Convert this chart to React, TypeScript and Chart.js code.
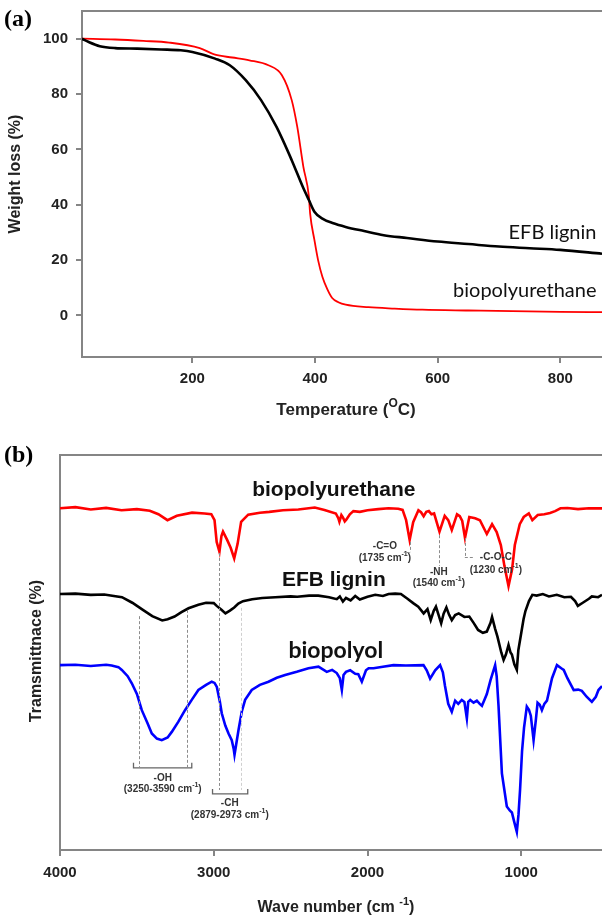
import React, { useEffect, useRef } from 'react';
import { Chart, registerables } from 'chart.js';

Chart.register(...registerables);

// ---------- Panel (a): TGA ----------
const tgaTempEfb = [20, 31, 49, 74, 110, 149, 181, 200, 237, 261, 287, 312, 337, 362, 380, 390, 399, 412, 430, 450, 480, 512, 550, 600, 650, 700, 750, 800, 868];
const tgaEfb = [100, 98.8, 97.3, 96.6, 96.4, 96.1, 95.8, 95.2, 92.8, 90.4, 85, 77.8, 68.2, 56.1, 46.5, 41.7, 37.5, 35, 33.3, 32, 30.5, 29, 28, 26.7, 25.8, 24.9, 24.3, 23.7, 22.3];
const tgaTempPu = [20, 74, 120, 162, 212, 237, 265, 293, 324, 346, 362, 371, 381, 390, 392, 399, 405, 412, 420, 428, 438, 450, 487, 530, 575, 650, 800, 868];
const tgaPu = [100, 99.7, 99.2, 98.6, 96.6, 94.2, 93.2, 92.2, 90.4, 86.8, 77.8, 68.2, 53.7, 43, 36.9, 27.3, 20, 14, 9.5, 6.3, 4.8, 3.9, 3, 2.5, 2.1, 1.8, 1.3, 1.2];
const tgaXTicks = [200, 400, 600, 800];
const tgaYTicks = [0, 20, 40, 60, 80, 100];
const tgaLabels = ['EFB lignin', 'biopolyurethane'];
const tgaLabelT = [859, 859];
const tgaLabelV = [29.8, 8.9];

// ---------- Panel (b): FTIR ----------
const puW = [4000, 3900, 3800, 3700, 3600, 3500, 3416, 3360, 3301, 3240, 3141, 3060, 3016, 2995, 2981, 2963, 2950, 2940, 2913, 2890, 2867, 2845, 2822, 2776, 2700, 2639, 2550, 2450, 2343, 2280, 2206, 2190, 2183, 2170, 2160, 2148, 2137, 2115, 2092, 2050, 2000, 1930, 1863, 1800, 1772, 1749, 1726, 1703, 1669, 1652, 1635, 1618, 1601, 1584, 1567, 1532, 1498, 1475, 1452, 1418, 1400, 1384, 1366, 1338, 1300, 1269, 1224, 1190, 1160, 1133, 1110, 1083, 1060, 1042, 1010, 984, 951, 928, 893, 850, 813, 780, 745, 700, 631, 560, 475];
const puT = [86.5, 86.8, 86.2, 86.6, 86.0, 86.3, 85.9, 85.0, 83.5, 84.6, 85.4, 85.2, 85.0, 83.5, 78, 75.5, 79.5, 80.6, 78.5, 76.5, 73.8, 77.5, 83.1, 84.9, 85.4, 85.6, 86.0, 86.2, 86.7, 86.1, 85.2, 84.0, 83.1, 84.8, 84.2, 83.2, 83.7, 85.0, 85.8, 85.6, 86.0, 86.3, 86.5, 86.4, 86.1, 83.5, 78.5, 83.0, 86.0, 85.5, 84.5, 85.6, 85.8, 85.0, 85.2, 80.6, 84.6, 83.5, 81.0, 85.0, 84.5, 83.3, 79.0, 84.3, 84.0, 83.5, 80.0, 82.5, 80.5, 77.2, 72, 66.8, 71, 77.2, 82.5, 84.3, 85.2, 83.5, 84.8, 85.0, 85.3, 85.8, 86.5, 86.6, 86.3, 86.5, 86.5];

const efbW = [4000, 3900, 3800, 3712, 3650, 3597, 3530, 3461, 3400, 3335, 3300, 3255, 3210, 3164, 3100, 3050, 3000, 2981, 2950, 2924, 2895, 2867, 2840, 2810, 2750, 2685, 2600, 2500, 2457, 2380, 2320, 2250, 2200, 2180, 2160, 2140, 2110, 2080, 2050, 2000, 1950, 1900, 1863, 1820, 1783, 1740, 1703, 1670, 1635, 1610, 1589, 1570, 1555, 1538, 1521, 1505, 1487, 1470, 1452, 1430, 1407, 1370, 1338, 1310, 1281, 1250, 1224, 1200, 1190, 1170, 1155, 1130, 1115, 1100, 1083, 1070, 1061, 1045, 1029, 1019, 1000, 985, 973, 950, 928, 900, 860, 820, 769, 720, 677, 650, 632, 600, 560, 541, 500, 475];
const efbT = [64.8, 64.9, 64.6, 64.7, 64.3, 64.0, 62.6, 60.8, 59.2, 58.1, 58.4, 59.1, 60.2, 61.2, 62.1, 62.6, 62.5, 61.8, 60.8, 59.9, 60.6, 61.4, 62.4, 63.0, 63.5, 63.8, 64.0, 64.2, 64.1, 64.4, 64.4, 64.0, 63.5, 64.2, 62.9, 63.8, 63.2, 64.3, 63.4, 64.1, 64.6, 64.3, 64.8, 64.9, 64.8, 63.6, 62.5, 61.6, 59.9, 61.0, 58.2, 60.5, 61.6, 59.5, 57.4, 59.8, 61.4, 59.6, 58.2, 59.5, 59.9, 59.0, 59.1, 57.5, 55.7, 55.0, 55.3, 57.5, 59.0, 56.0, 54.0, 50.0, 48.1, 49.5, 51.9, 50.0, 49.5, 47.0, 45.6, 50.6, 55.0, 58.5, 60.5, 63.0, 64.6, 64.4, 64.8, 64.2, 64.6, 64.0, 64.1, 63.0, 61.8, 62.6, 63.6, 64.2, 64.0, 64.6];

const polW = [4000, 3900, 3800, 3700, 3664, 3620, 3598, 3560, 3533, 3500, 3468, 3430, 3403, 3370, 3338, 3300, 3273, 3230, 3187, 3140, 3100, 3050, 3013, 2995, 2980, 2960, 2948, 2925, 2904, 2883, 2870, 2865, 2855, 2839, 2818, 2796, 2753, 2700, 2644, 2590, 2536, 2460, 2384, 2319, 2265, 2230, 2200, 2180, 2167, 2156, 2140, 2113, 2080, 2060, 2037, 2010, 1993, 1961, 1900, 1831, 1750, 1636, 1615, 1593, 1560, 1528, 1510, 1496, 1475, 1452, 1430, 1410, 1387, 1370, 1354, 1345, 1332, 1310, 1289, 1270, 1256, 1240, 1224, 1200, 1170, 1160, 1148, 1126, 1094, 1075, 1061, 1045, 1029, 1018, 1008, 995, 982, 964, 950, 938, 920, 905, 894, 880, 866, 850, 833, 800, 768, 740, 724, 700, 659, 630, 606, 575, 541, 515, 498, 475];
const polT = [46.8, 46.9, 46.6, 46.9, 46.7, 46.3, 45.6, 44.0, 42.2, 39.5, 35.4, 32.0, 29.5, 28.2, 27.8, 28.5, 29.9, 32.5, 35.4, 38.2, 40.5, 41.8, 42.6, 42.3, 41.3, 37.5, 34.6, 31.5, 29.5, 27.8, 25.5, 24.1, 26.5, 30.4, 35, 38.0, 40.5, 41.8, 42.6, 43.6, 44.3, 45.1, 46.0, 46.4, 45.1, 45.6, 44.8, 43.5, 40.5, 44.3, 45.1, 45.5, 44.6, 44.5, 42.6, 45.5, 46.0, 46.0, 46.4, 46.8, 46.7, 46.8, 45.5, 43.4, 45.5, 46.8, 45.0, 41.5, 37.0, 35.0, 37.8, 37.0, 38.0, 37.5, 33.3, 37.5, 38.0, 37.3, 37.8, 37.0, 36.5, 38.0, 39.5, 43.0, 46.8, 44.0, 36.5, 19.4, 11.0, 10.0, 9.5, 7.0, 4.6, 9.0, 15.2, 25.0, 31.0, 36.3, 35.5, 34.0, 27.8, 33.0, 37.3, 36.8, 35.4, 37.0, 37.8, 43.5, 46.8, 46.0, 45.6, 43.5, 40.5, 40.6, 40.3, 38.8, 37.5, 38.8, 40.5, 41.5];

const ftirXTicks = [4000, 3000, 2000, 1000];
const ftirNames = ['biopolyurethane', 'EFB lignin', 'biopolyol'];
const ftirNameW = [2219, 2219, 2206];
const ftirNameT = [91.1, 68.4, 50.6];

// peak annotations (positions)
const dashW = [3488, 3174, 2969, 2826, 1726, 1532, 1367];
const dashTop = [59.2, 60.8, 75.2, 61.3, 78, 79.7, 79];
const dashBottom = [21, 21, 15.2, 15.2, 75.4, 71.9, 74.2];
const elbowFrom = [1726, 1367];
const elbowTo = [1764, 1302];
const elbowT = [75.4, 74.2];
const bracketFrom = [3522, 3008];
const bracketTo = [3143, 2779];
const bracketT = [20.8, 14.2];
const peakNames = ['-C=O', '-NH', '-C-O-C', '-OH', '-CH'];
const peakRanges = ['1735', '1540', '1230', '3250-3590', '2879-2973'];
const peakLabelW = [1887, 1536, 1165, 3332, 2896];
const peakNameT = [77, 70.4, 74.2, 18.2, 11.9];
const peakRangeT = [73.9, 67.6, 70.9, 15.4, 8.9];

const SANS = '"Liberation Sans", Arial, sans-serif';
const AXIS = '#858585';

type Seg = { t: string; sup?: boolean };
function drawRich(ctx: CanvasRenderingContext2D, segs: Seg[], cx: number, cy: number, size: number, weight: string, family: string, align: 'center' | 'left' | 'right' = 'center') {
  const widths: number[] = [];
  let total = 0;
  segs.forEach((s) => {
    ctx.font = `${weight} ${s.sup ? Math.round(size * 0.68) : size}px ${family}`;
    const w = ctx.measureText(s.t).width;
    widths.push(w);
    total += w;
  });
  let x = align === 'center' ? cx - total / 2 : align === 'right' ? cx - total : cx;
  ctx.textAlign = 'left';
  ctx.textBaseline = 'middle';
  segs.forEach((s, i) => {
    ctx.font = `${weight} ${s.sup ? Math.round(size * 0.68) : size}px ${family}`;
    ctx.fillText(s.t, x, s.sup ? cy - size * 0.38 : cy);
    x += widths[i];
  });
}

const panelAPlugin = {
  id: 'panelA',
  afterDraw(chart: any) {
    const { ctx, chartArea: ca, scales } = chart;
    const x = scales.x, y = scales.y;
    ctx.save();
    ctx.strokeStyle = AXIS;
    ctx.lineWidth = 2;
    ctx.beginPath();
    ctx.moveTo(ca.left - 1, ca.top);
    ctx.lineTo(ca.right, ca.top);
    ctx.stroke();
    ctx.fillStyle = '#000';
    ctx.font = 'bold 24px "Liberation Serif", "Times New Roman", serif';
    ctx.textAlign = 'left';
    ctx.textBaseline = 'middle';
    ctx.fillText('(a)', 4, 20);
    ctx.fillStyle = '#222';
    ctx.save();
    ctx.translate(16, 174);
    ctx.rotate(-Math.PI / 2);
    drawRich(ctx, [{ t: 'Weight loss (%)' }], 0, 0, 16, 'bold', SANS);
    ctx.restore();
    drawRich(ctx, [{ t: 'Temperature (' }, { t: 'O', sup: true }, { t: 'C)' }], 346, 410, 17, 'bold', SANS);
    ctx.fillStyle = '#111';
    tgaLabels.forEach((lab, i) => {
      drawRich(ctx, [{ t: lab }], x.getPixelForValue(tgaLabelT[i]), y.getPixelForValue(tgaLabelV[i]), 20, 'normal', 'Lato, "Open Sans", sans-serif', 'right');
    });
    ctx.restore();
  },
};

const panelBPlugin = {
  id: 'panelB',
  afterDraw(chart: any) {
    const { ctx, chartArea: ca, scales } = chart;
    const x = scales.x, y = scales.y;
    ctx.save();
    ctx.strokeStyle = AXIS;
    ctx.lineWidth = 2;
    ctx.beginPath();
    ctx.moveTo(ca.left - 1, ca.top);
    ctx.lineTo(ca.right, ca.top);
    ctx.stroke();
    ctx.fillStyle = '#000';
    ctx.font = 'bold 24px "Liberation Serif", "Times New Roman", serif';
    ctx.textAlign = 'left';
    ctx.textBaseline = 'middle';
    ctx.fillText('(b)', 4, 16);
    ctx.fillStyle = '#222';
    ctx.save();
    ctx.translate(37, 651 - 440);
    ctx.rotate(-Math.PI / 2);
    drawRich(ctx, [{ t: 'Tramsmittnace (%)' }], 0, 0, 16, 'bold', SANS);
    ctx.restore();
    drawRich(ctx, [{ t: 'Wave number (cm ' }, { t: '-1', sup: true }, { t: ')' }], 336, 908 - 440, 16, 'bold', SANS);

    // dashed guide lines
    ctx.setLineDash([3, 2]);
    ctx.lineWidth = 1;
    dashW.forEach((w, i) => {
      ctx.strokeStyle = i === 3 ? '#cfcfcf' : '#8c8c8c';
      const px = Math.round(x.getPixelForValue(w)) + 0.5;
      ctx.beginPath();
      ctx.moveTo(px, y.getPixelForValue(dashTop[i]));
      ctx.lineTo(px, y.getPixelForValue(dashBottom[i]));
      ctx.stroke();
    });
    ctx.strokeStyle = '#8c8c8c';
    elbowFrom.forEach((w, i) => {
      const py = Math.round(y.getPixelForValue(elbowT[i])) + 0.5;
      ctx.beginPath();
      ctx.moveTo(x.getPixelForValue(w), py);
      ctx.lineTo(x.getPixelForValue(elbowTo[i]), py);
      ctx.stroke();
    });
    ctx.setLineDash([]);
    ctx.strokeStyle = '#666';
    ctx.lineWidth = 1.3;
    bracketFrom.forEach((w, i) => {
      const py = y.getPixelForValue(bracketT[i]);
      const x1 = x.getPixelForValue(w), x2 = x.getPixelForValue(bracketTo[i]);
      ctx.beginPath();
      ctx.moveTo(x1, py - 5);
      ctx.lineTo(x1, py);
      ctx.lineTo(x2, py);
      ctx.lineTo(x2, py - 5);
      ctx.stroke();
    });

    ctx.fillStyle = '#333';
    peakNames.forEach((n, i) => {
      const px = x.getPixelForValue(peakLabelW[i]);
      drawRich(ctx, [{ t: n }], px, y.getPixelForValue(peakNameT[i]), 10, 'bold', SANS);
      drawRich(ctx, [{ t: `(${peakRanges[i]} cm` }, { t: '-1', sup: true }, { t: ')' }], px, y.getPixelForValue(peakRangeT[i]), 10, 'bold', SANS);
    });

    ctx.fillStyle = '#111';
    ftirNames.forEach((n, i) => {
      const fam = i === 2 ? 'Lato, sans-serif' : SANS;
      const size = i === 2 ? 23 : 21;
      drawRich(ctx, [{ t: n }], x.getPixelForValue(ftirNameW[i]), y.getPixelForValue(ftirNameT[i]), size, 'bold', fam);
    });
    ctx.restore();
  },
};

const tickFont = { family: SANS, weight: 'bold' as const, size: 15 };
const plainLabel = (v: any) => String(v);
const noPadV = (s: any, w: number) => { s.width = w; s.paddingTop = 0; s.paddingBottom = 0; };
const noPadH = (s: any, h: number) => { s.height = h; s.paddingLeft = 0; s.paddingRight = 0; };

export default function App() {
  const refA = useRef<HTMLCanvasElement>(null);
  const refB = useRef<HTMLCanvasElement>(null);

  useEffect(() => {
    document.body.style.margin = '0';
    const chartA = new Chart(refA.current as HTMLCanvasElement, {
      type: 'line',
      data: {
        datasets: [
          {
            data: tgaTempEfb.map((t, i) => ({ x: t, y: tgaEfb[i] })),
            borderColor: '#000000',
            borderWidth: 2.6,
            pointRadius: 0,
            cubicInterpolationMode: 'monotone',
          },
          {
            data: tgaTempPu.map((t, i) => ({ x: t, y: tgaPu[i] })),
            borderColor: '#ff0000',
            borderWidth: 1.8,
            pointRadius: 0,
            cubicInterpolationMode: 'monotone',
          },
        ],
      },
      options: {
        animation: false,
        responsive: false,
        maintainAspectRatio: false,
        layout: { padding: { top: 11, left: 0, right: 0, bottom: 0 } },
        plugins: { legend: { display: false }, tooltip: { enabled: false } },
        scales: {
          x: {
            type: 'linear',
            min: 20,
            max: 868,
            afterBuildTicks: (s: any) => { s.ticks = tgaXTicks.map((v) => ({ value: v })); },
            afterFit: (s: any) => noPadH(s, 83),
            grid: { drawOnChartArea: false, tickLength: 6, color: AXIS, tickColor: AXIS, lineWidth: 2 },
            border: { display: true, color: AXIS, width: 2 },
            ticks: { color: '#222', font: tickFont, padding: 7, maxRotation: 0, callback: plainLabel },
          },
          y: {
            type: 'linear',
            min: -15,
            max: 110,
            afterBuildTicks: (s: any) => { s.ticks = tgaYTicks.map((v) => ({ value: v })); },
            afterFit: (s: any) => noPadV(s, 82),
            grid: { drawOnChartArea: false, tickLength: 6, color: AXIS, tickColor: AXIS, lineWidth: 2 },
            border: { display: true, color: AXIS, width: 2 },
            ticks: { color: '#222', font: tickFont, padding: 8, callback: plainLabel },
          },
        },
      },
      plugins: [panelAPlugin],
    } as any);

    const chartB = new Chart(refB.current as HTMLCanvasElement, {
      type: 'line',
      data: {
        datasets: [
          { data: puW.map((w, i) => ({ x: w, y: puT[i] })), borderColor: '#ff0000', borderWidth: 2.6, pointRadius: 0 },
          { data: efbW.map((w, i) => ({ x: w, y: efbT[i] })), borderColor: '#000000', borderWidth: 2.6, pointRadius: 0 },
          { data: polW.map((w, i) => ({ x: w, y: polT[i] })), borderColor: '#0000ff', borderWidth: 2.6, pointRadius: 0 },
        ],
      },
      options: {
        animation: false,
        responsive: false,
        maintainAspectRatio: false,
        layout: { padding: { top: 15, left: 0, right: 0, bottom: 0 } },
        plugins: { legend: { display: false }, tooltip: { enabled: false } },
        scales: {
          x: {
            type: 'linear',
            reverse: true,
            min: 475,
            max: 4000,
            afterBuildTicks: (s: any) => { s.ticks = ftirXTicks.map((v) => ({ value: v })); },
            afterFit: (s: any) => noPadH(s, 69),
            grid: { drawOnChartArea: false, tickLength: 6, color: AXIS, tickColor: AXIS, lineWidth: 2 },
            border: { display: true, color: AXIS, width: 2 },
            ticks: { color: '#222', font: tickFont, padding: 8, maxRotation: 0, callback: plainLabel },
          },
          y: {
            type: 'linear',
            min: 0,
            max: 100,
            afterFit: (s: any) => noPadV(s, 60),
            grid: { display: false },
            border: { display: true, color: AXIS, width: 2 },
            ticks: { display: false },
          },
        },
      },
      plugins: [panelBPlugin],
    } as any);

    return () => {
      chartA.destroy();
      chartB.destroy();
    };
  }, []);

  return (
    <div style={{ width: 602, height: 919, position: 'relative', background: '#fff', overflow: 'hidden' }}>
      <canvas ref={refA} width={602} height={440} style={{ position: 'absolute', left: 0, top: 0, display: 'block' }} />
      <canvas ref={refB} width={602} height={479} style={{ position: 'absolute', left: 0, top: 440, display: 'block' }} />
    </div>
  );
}
